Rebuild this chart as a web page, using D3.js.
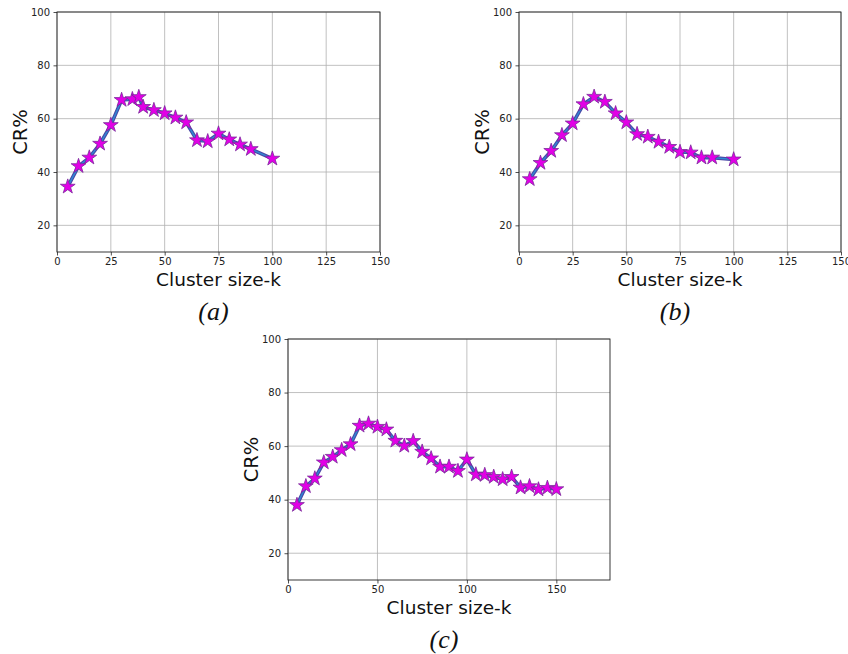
<!DOCTYPE html>
<html>
<head>
<meta charset="utf-8">
<script src="https://cdn.jsdelivr.net/npm/d3@7"></script>
<style>
  body { margin: 0; background: #fff; }
  svg { display: block; }
</style>
</head>
<body>
<svg id="chart" width="848" height="654"></svg>
<script>
// ---- data ----
const kA = [5, 10, 15, 20, 25, 30, 35, 38, 40, 45, 50, 55, 60, 65, 70, 75, 80, 85, 90, 100];
const crA = [34.5, 42.2, 45.4, 50.6, 57.6, 67.0, 67.3, 68.1, 64.4, 63.2, 62.0, 60.4, 58.6, 51.9, 51.5, 54.4, 52.2, 50.3, 48.6, 45.0];

const kB = [5, 10, 15, 20, 25, 30, 35, 40, 45, 50, 55, 60, 65, 70, 75, 80, 85, 90, 100];
const crB = [37.3, 43.4, 47.9, 53.8, 58.2, 65.4, 68.2, 66.3, 62.0, 58.6, 54.2, 53.2, 51.3, 49.4, 47.5, 47.3, 45.4, 45.4, 44.7];

const kC = [5, 10, 15, 20, 25, 30, 35, 40, 45, 50, 55, 60, 65, 70, 75, 80, 85, 90, 95, 100, 105, 110, 115, 120, 125, 130, 135, 140, 145, 150];
const crC = [38.0, 45.0, 47.9, 53.9, 56.0, 58.5, 60.7, 67.6, 68.4, 67.2, 66.2, 62.0, 60.1, 61.9, 57.9, 55.4, 52.3, 52.3, 50.7, 55.0, 49.4, 49.2, 48.5, 47.6, 48.5, 44.5, 45.0, 43.8, 44.4, 43.9];

const yTicks = [20, 40, 60, 80, 100];
const xTicksAB = [0, 25, 50, 75, 100, 125, 150];
const xTicksC = [0, 50, 100, 150];

const panels = [
  { k: kA, cr: crA, xMax: 150, xTicks: xTicksAB, caption: "(a)", box: { l: 57, r: 380, t: 12, b: 252 } },
  { k: kB, cr: crB, xMax: 150, xTicks: xTicksAB, caption: "(b)", box: { l: 519, r: 841, t: 12, b: 252 } },
  { k: kC, cr: crC, xMax: 180, xTicks: xTicksC, caption: "(c)", box: { l: 288, r: 610, t: 339, b: 580 } }
];

const svg = d3.select("#chart");
const star = d3.symbol().type(d3.symbolStar).size(68);

panels.forEach(p => {
  const { l, r, t, b } = p.box;
  const x = d3.scaleLinear().domain([0, p.xMax]).range([l, r]);
  const y = d3.scaleLinear().domain([10, 100]).range([b, t]);
  const g = svg.append("g");

  // grid
  g.append("g").selectAll("line.vg").data(p.xTicks).join("line")
    .attr("x1", d => x(d)).attr("x2", d => x(d)).attr("y1", t).attr("y2", b)
    .attr("stroke", "#b0b0b0").attr("stroke-width", 0.8);
  g.append("g").selectAll("line.hg").data(yTicks).join("line")
    .attr("x1", l).attr("x2", r).attr("y1", d => y(d)).attr("y2", d => y(d))
    .attr("stroke", "#b0b0b0").attr("stroke-width", 0.8);

  // axes
  const xAxis = g.append("g").attr("transform", `translate(0,${b})`)
    .call(d3.axisBottom(x).tickValues(p.xTicks).tickSize(3.5).tickPadding(2.5));
  const yAxis = g.append("g").attr("transform", `translate(${l},0)`)
    .call(d3.axisLeft(y).tickValues(yTicks).tickSize(3.5).tickPadding(3.5));
  [xAxis, yAxis].forEach(ax => {
    ax.select(".domain").remove();
    ax.selectAll("text").attr("font-family", "DejaVu Sans").attr("font-size", 10).attr("fill", "#222");
    ax.selectAll("line").attr("stroke", "#222").attr("stroke-width", 0.8);
  });

  // frame
  g.append("rect").attr("x", l).attr("y", t).attr("width", r - l).attr("height", b - t)
    .attr("fill", "none").attr("stroke", "#222").attr("stroke-width", 0.9);

  const pts = p.k.map((k, i) => [k, p.cr[i]]);
  const line = d3.line().x(d => x(d[0])).y(d => y(d[1]));

  g.append("path").datum(pts).attr("d", line)
    .attr("fill", "none").attr("stroke", "#4a48a6").attr("stroke-width", 3.6)
    .attr("stroke-linejoin", "round");
  g.append("path").datum(pts).attr("d", line)
    .attr("fill", "none").attr("stroke", "#2e8ad4").attr("stroke-width", 1.4)
    .attr("stroke-linejoin", "round");

  g.append("g").selectAll("path").data(pts).join("path")
    .attr("d", star)
    .attr("transform", d => `translate(${x(d[0])},${y(d[1])})`)
    .attr("fill", "#e200e6").attr("stroke", "#7a2a9a").attr("stroke-width", 0.8);

  // labels
  const cx = (l + r) / 2;
  g.append("text").attr("x", cx).attr("y", b + 34).attr("text-anchor", "middle")
    .attr("font-family", "DejaVu Sans").attr("font-size", 18.5).attr("fill", "#111")
    .text("Cluster size-k");
  g.append("text").attr("transform", `translate(${l - 30},${(t + b) / 2}) rotate(-90)`)
    .attr("text-anchor", "middle")
    .attr("font-family", "DejaVu Sans").attr("font-size", 19.5).attr("fill", "#111")
    .text("CR%");
  g.append("text").attr("x", cx - 5).attr("y", b + 68).attr("text-anchor", "middle")
    .attr("font-family", "Liberation Serif").attr("font-style", "italic").attr("font-size", 26).attr("fill", "#111")
    .text(p.caption);
});
</script>
</body>
</html>
